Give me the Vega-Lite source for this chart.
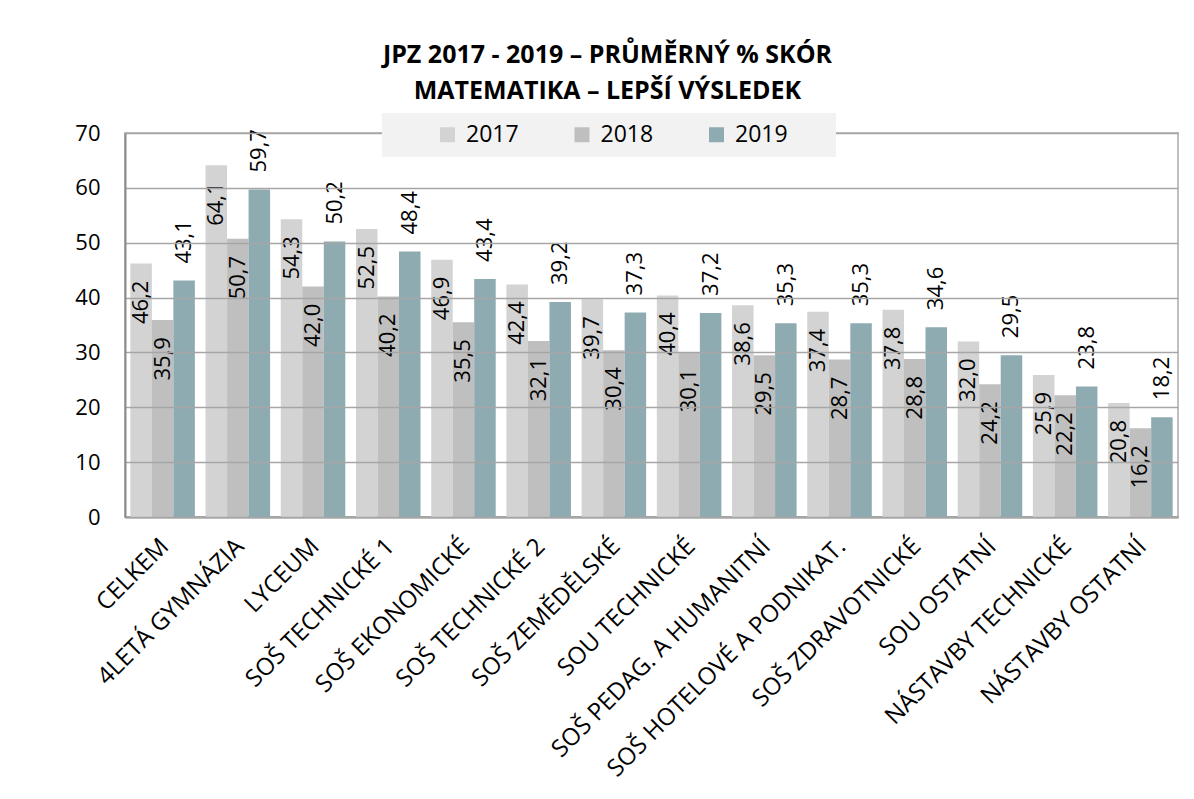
{
  "$schema": "https://vega.github.io/schema/vega-lite/v6.json",
  "width": 1053,
  "height": 384,
  "autosize": {"type": "none"},
  "padding": {"left": 125, "top": 133, "right": 16, "bottom": 282},
  "background": "white",
  "title": {
    "text": ["JPZ 2017 - 2019 – PRŮMĚRNÝ % SKÓR", "MATEMATIKA – LEPŠÍ VÝSLEDEK"],
    "anchor": "middle",
    "frame": "group",
    "dx": -44,
    "offset": 9,
    "fontSize": 25,
    "fontWeight": "bold",
    "font": "Open Sans",
    "color": "black",
    "lineHeight": 36
  },
  "datasets": {
    "jpz": [
      {"kategorie": "CELKEM", "rok": "2017", "skore": 46.2},
      {"kategorie": "CELKEM", "rok": "2018", "skore": 35.9},
      {"kategorie": "CELKEM", "rok": "2019", "skore": 43.1},
      {"kategorie": "4LETÁ GYMNÁZIA", "rok": "2017", "skore": 64.1},
      {"kategorie": "4LETÁ GYMNÁZIA", "rok": "2018", "skore": 50.7},
      {"kategorie": "4LETÁ GYMNÁZIA", "rok": "2019", "skore": 59.7},
      {"kategorie": "LYCEUM", "rok": "2017", "skore": 54.3},
      {"kategorie": "LYCEUM", "rok": "2018", "skore": 42.0},
      {"kategorie": "LYCEUM", "rok": "2019", "skore": 50.2},
      {"kategorie": "SOŠ TECHNICKÉ 1", "rok": "2017", "skore": 52.5},
      {"kategorie": "SOŠ TECHNICKÉ 1", "rok": "2018", "skore": 40.2},
      {"kategorie": "SOŠ TECHNICKÉ 1", "rok": "2019", "skore": 48.4},
      {"kategorie": "SOŠ EKONOMICKÉ", "rok": "2017", "skore": 46.9},
      {"kategorie": "SOŠ EKONOMICKÉ", "rok": "2018", "skore": 35.5},
      {"kategorie": "SOŠ EKONOMICKÉ", "rok": "2019", "skore": 43.4},
      {"kategorie": "SOŠ TECHNICKÉ 2", "rok": "2017", "skore": 42.4},
      {"kategorie": "SOŠ TECHNICKÉ 2", "rok": "2018", "skore": 32.1},
      {"kategorie": "SOŠ TECHNICKÉ 2", "rok": "2019", "skore": 39.2},
      {"kategorie": "SOŠ ZEMĚDĚLSKÉ", "rok": "2017", "skore": 39.7},
      {"kategorie": "SOŠ ZEMĚDĚLSKÉ", "rok": "2018", "skore": 30.4},
      {"kategorie": "SOŠ ZEMĚDĚLSKÉ", "rok": "2019", "skore": 37.3},
      {"kategorie": "SOU TECHNICKÉ", "rok": "2017", "skore": 40.4},
      {"kategorie": "SOU TECHNICKÉ", "rok": "2018", "skore": 30.1},
      {"kategorie": "SOU TECHNICKÉ", "rok": "2019", "skore": 37.2},
      {"kategorie": "SOŠ PEDAG. A HUMANITNÍ", "rok": "2017", "skore": 38.6},
      {"kategorie": "SOŠ PEDAG. A HUMANITNÍ", "rok": "2018", "skore": 29.5},
      {"kategorie": "SOŠ PEDAG. A HUMANITNÍ", "rok": "2019", "skore": 35.3},
      {"kategorie": "SOŠ HOTELOVÉ A PODNIKAT.", "rok": "2017", "skore": 37.4},
      {"kategorie": "SOŠ HOTELOVÉ A PODNIKAT.", "rok": "2018", "skore": 28.7},
      {"kategorie": "SOŠ HOTELOVÉ A PODNIKAT.", "rok": "2019", "skore": 35.3},
      {"kategorie": "SOŠ ZDRAVOTNICKÉ", "rok": "2017", "skore": 37.8},
      {"kategorie": "SOŠ ZDRAVOTNICKÉ", "rok": "2018", "skore": 28.8},
      {"kategorie": "SOŠ ZDRAVOTNICKÉ", "rok": "2019", "skore": 34.6},
      {"kategorie": "SOU OSTATNÍ", "rok": "2017", "skore": 32.0},
      {"kategorie": "SOU OSTATNÍ", "rok": "2018", "skore": 24.2},
      {"kategorie": "SOU OSTATNÍ", "rok": "2019", "skore": 29.5},
      {"kategorie": "NÁSTAVBY TECHNICKÉ", "rok": "2017", "skore": 25.9},
      {"kategorie": "NÁSTAVBY TECHNICKÉ", "rok": "2018", "skore": 22.2},
      {"kategorie": "NÁSTAVBY TECHNICKÉ", "rok": "2019", "skore": 23.8},
      {"kategorie": "NÁSTAVBY OSTATNÍ", "rok": "2017", "skore": 20.8},
      {"kategorie": "NÁSTAVBY OSTATNÍ", "rok": "2018", "skore": 16.2},
      {"kategorie": "NÁSTAVBY OSTATNÍ", "rok": "2019", "skore": 18.2}
    ]
  },
  "data": {"name": "jpz"},
  "encoding": {
    "x": {
      "field": "kategorie",
      "type": "nominal",
      "sort": null,
      "scale": {"paddingInner": 0.142, "paddingOuter": 0.071},
      "axis": {
        "title": null,
        "labelAngle": -45,
        "labelFontSize": 24,
        "labelFont": "Open Sans",
        "labelColor": "black",
        "labelLimit": 400,
        "labelPadding": 17,
        "labelOffset": -6,
        "ticks": false,
        "tickSize": 0,
        "grid": false,
        "domainColor": "#8C8C8C",
        "domainWidth": 2
      }
    },
    "xOffset": {
      "field": "rok",
      "type": "nominal",
      "scale": {"paddingInner": 0, "paddingOuter": 0}
    },
    "y": {
      "field": "skore",
      "type": "quantitative",
      "scale": {"domain": [0, 70], "nice": false},
      "axis": {
        "title": null,
        "values": [0, 10, 20, 30, 40, 50, 60, 70],
        "labelFontSize": 22,
        "labelFont": "Open Sans",
        "labelColor": "black",
        "labelPadding": 25,
        "ticks": false,
        "tickSize": 0,
        "gridColor": "#A6A6A6",
        "gridWidth": 1.5,
        "domainColor": "#8C8C8C",
        "domainWidth": 2,
        "zindex": 1
      }
    }
  },
  "layer": [
    {
      "mark": {"type": "bar"},
      "encoding": {
        "color": {
          "field": "rok",
          "type": "nominal",
          "scale": {"domain": ["2017", "2018", "2019"], "range": ["#D3D3D3", "#BFBFBF", "#8FABB2"]},
          "legend": {
            "orient": "none",
            "legendX": 257,
            "legendY": -20,
            "direction": "horizontal",
            "title": "\u00a0",
            "titleOrient": "right",
            "titlePadding": 38,
            "fillColor": "#F2F2F2",
            "padding": 10,
            "symbolType": "square",
            "symbolSize": 225,
            "symbolOffset": 44,
            "symbolStrokeWidth": 0,
            "labelOffset": 7,
            "columnPadding": 7.5,
            "labelFontSize": 23,
            "labelFont": "Open Sans",
            "labelColor": "black",
            "zindex": 2
          }
        }
      }
    },
    {
      "transform": [{"filter": "datum.rok != '2019'"}],
      "mark": {"type": "text", "angle": 270, "align": "right", "baseline": "middle", "dx": -17, "fontSize": 22, "font": "Open Sans", "color": "black"},
      "encoding": {
        "text": {"field": "skore", "type": "quantitative", "format": ".1f"}
      }
    },
    {
      "transform": [{"filter": "datum.rok == '2019'"}],
      "mark": {"type": "text", "angle": 270, "align": "left", "baseline": "middle", "dx": 17, "fontSize": 22, "font": "Open Sans", "color": "black"},
      "encoding": {
        "text": {"field": "skore", "type": "quantitative", "format": ".1f"}
      }
    }
  ],
  "config": {
    "locale": {"number": {"decimal": ",", "thousands": " ", "grouping": [3], "currency": ["", " Kč"]}},
    "view": {"stroke": "#BFBFBF", "strokeWidth": 2},
    "font": "Open Sans"
  }
}
